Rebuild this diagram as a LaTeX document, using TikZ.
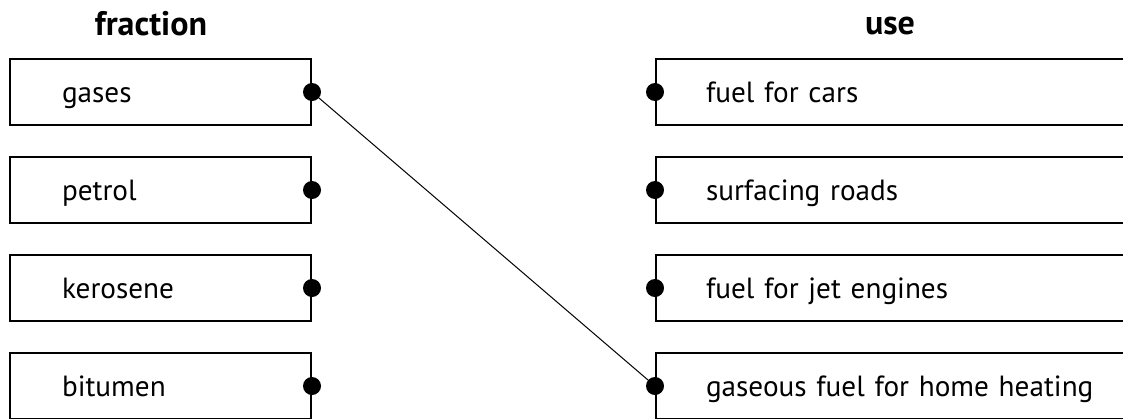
\documentclass[tikz,border=0pt]{standalone}
\usepackage{fontspec}
\setmainfont{PT Sans}
\begin{document}
\begin{tikzpicture}[x=0.5pt, y=-0.5pt,
    every node/.style={draw, rectangle, line width=1pt, minimum height=33pt, inner xsep=26pt, text width=98.5pt, text height=13pt, text depth=3pt, align=left},
    usebox/.style={inner xsep=25pt, text width=230pt},
    head/.style={draw=none, text width=, text height=, text depth=, inner xsep=0pt, font=\fontsize{17}{20}\selectfont\bfseries},
    node distance=49pt]
            \fontsize{14.6}{18}\selectfont
            \clip (0,0) rectangle (1123,418);
            \node[head, anchor=base] (fraction) at (151,35) {fraction};
            \node[head, anchor=base] (use) at (890,34) {use};

            \node (gases) at (160.5,92) {gases};
            \node (petrol) [below of=gases] {petrol};
            \node (kerosene) [below of=petrol] {kerosene};
            \node (bitumen) [below of=kerosene] {bitumen};

            % right boxes run off the page
            \node[usebox] (cars) at (936,92) {fuel for cars};
            \node[usebox] (roads) [below of=cars] {surfacing roads};
            \node[usebox] (jet) [below of=roads] {fuel for jet engines};
            \node[usebox] (heating) [below of=jet] {gaseous fuel for home heating};

            \foreach \n in {gases, petrol, kerosene, bitumen} \fill (\n.east) circle (4.5pt);
            \foreach \n in {cars, roads, jet, heating} \fill (\n.west) circle (4.5pt);

            \draw[line width=0.5pt] (gases.east) -- (heating.west);
\end{tikzpicture}
\end{document}
